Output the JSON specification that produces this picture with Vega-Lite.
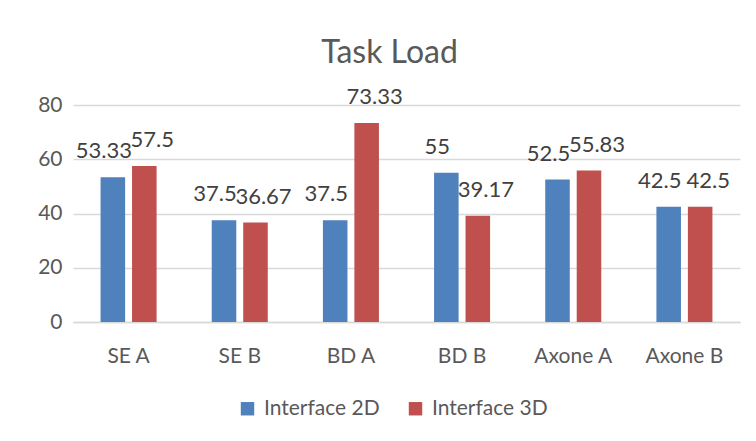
{
  "$schema": "https://vega.github.io/schema/vega-lite/v6.json",
  "autosize": {"type": "none"},
  "width": 667,
  "height": 217,
  "padding": {"left": 73, "top": 105, "right": 16, "bottom": 119},
  "background": "white",
  "title": {
    "text": "Task Load",
    "font": "Lato",
    "fontSize": 32,
    "fontWeight": "normal",
    "color": "#595959",
    "anchor": "middle",
    "baseline": "alphabetic",
    "offset": -9,
    "dx": -17
  },
  "data": {
    "values": [
      {"task": "SE A", "series": "Interface 2D", "value": 53.33},
      {"task": "SE A", "series": "Interface 3D", "value": 57.5},
      {"task": "SE B", "series": "Interface 2D", "value": 37.5},
      {"task": "SE B", "series": "Interface 3D", "value": 36.67},
      {"task": "BD A", "series": "Interface 2D", "value": 37.5},
      {"task": "BD A", "series": "Interface 3D", "value": 73.33},
      {"task": "BD B", "series": "Interface 2D", "value": 55},
      {"task": "BD B", "series": "Interface 3D", "value": 39.17},
      {"task": "Axone A", "series": "Interface 2D", "value": 52.5},
      {"task": "Axone A", "series": "Interface 3D", "value": 55.83},
      {"task": "Axone B", "series": "Interface 2D", "value": 42.5},
      {"task": "Axone B", "series": "Interface 3D", "value": 42.5}
    ]
  },
  "encoding": {
    "x": {
      "field": "task",
      "type": "nominal",
      "sort": null,
      "scale": {"paddingInner": 0.496, "paddingOuter": 0.248},
      "axis": {
        "title": null,
        "labelAngle": 0,
        "labelFont": "Lato",
        "labelFontSize": 21,
        "labelColor": "#595959",
        "labelPadding": 23,
        "ticks": false,
        "domainColor": "#D9D9D9",
        "domainWidth": 1.5,
        "grid": false
      }
    },
    "xOffset": {
      "field": "series",
      "type": "nominal",
      "scale": {"paddingInner": 0.22, "paddingOuter": 0}
    },
    "y": {
      "field": "value",
      "type": "quantitative",
      "scale": {"domain": [0, 80], "nice": false},
      "axis": {
        "title": null,
        "values": [0, 20, 40, 60, 80],
        "labelFont": "Lato",
        "labelFontSize": 21,
        "labelColor": "#595959",
        "labelPadding": 11,
        "ticks": false,
        "domain": false,
        "gridColor": "#D9D9D9",
        "gridWidth": 1.5
      }
    }
  },
  "layer": [
    {
      "mark": {"type": "bar"},
      "encoding": {
        "color": {
          "field": "series",
          "type": "nominal",
          "scale": {"domain": ["Interface 2D", "Interface 3D"], "range": ["#4F81BD", "#C0504D"]},
          "legend": {
            "title": null,
            "orient": "none",
            "direction": "horizontal",
            "legendX": 164,
            "legendY": 293,
            "symbolType": "square",
            "symbolSize": 180,
            "symbolStrokeWidth": 0,
            "labelFont": "Lato",
            "labelFontSize": 21,
            "labelColor": "#595959",
            "labelOffset": 6,
            "columnPadding": 25,
            "padding": 0
          }
        }
      }
    },
    {
      "transform": [{"filter": "datum.series === 'Interface 2D'"}],
      "mark": {"type": "text", "font": "Lato", "fontSize": 22, "color": "#404040", "baseline": "alphabetic", "dy": -19, "dx": -9},
      "encoding": {"text": {"field": "value", "type": "nominal"}}
    },
    {
      "transform": [{"filter": "datum.series === 'Interface 3D'"}],
      "mark": {"type": "text", "font": "Lato", "fontSize": 22, "color": "#404040", "baseline": "alphabetic", "dy": -19, "dx": 8},
      "encoding": {"text": {"field": "value", "type": "nominal"}}
    }
  ],
  "config": {"view": {"stroke": null}}
}
